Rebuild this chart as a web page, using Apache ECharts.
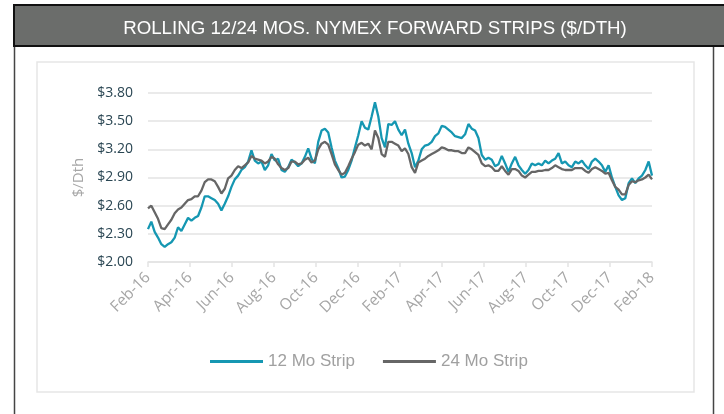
<!DOCTYPE html>
<html>
<head>
<meta charset="utf-8">
<script src="https://cdn.jsdelivr.net/npm/echarts@6/dist/echarts.min.js"></script>
<style>
  html, body { margin: 0; padding: 0; background: #fff; }
  #chart { width: 724px; height: 414px; }
</style>
</head>
<body>
<div id="chart"></div>
<script>
// tick labels every 2 months, Feb-16 .. Feb-18
var tickLabels = ['Feb-16', 'Apr-16', 'Jun-16', 'Aug-16', 'Oct-16', 'Dec-16', 'Feb-17',
                  'Apr-17', 'Jun-17', 'Aug-17', 'Oct-17', 'Dec-17', 'Feb-18'];

// rolling 12 month strip, $/Dth (~5 day steps)
var strip12 = [
  2.35, 2.43, 2.32, 2.26, 2.19, 2.16, 2.19, 2.21, 2.26, 2.37, 2.33, 2.40, 2.47, 2.44, 2.47, 2.49,
  2.58, 2.70, 2.70, 2.68, 2.66, 2.62, 2.55, 2.62, 2.70, 2.80, 2.88, 2.92, 2.98, 3.01, 3.07, 3.19,
  3.08, 3.05, 3.07, 2.98, 3.03, 3.15, 3.08, 3.10, 2.98, 2.96, 3.01, 3.09, 3.06, 3.02, 3.05, 3.12,
  3.21, 3.10, 3.05, 3.28, 3.40, 3.42, 3.38, 3.22, 3.08, 3.00, 2.90, 2.91, 2.98, 3.08, 3.22, 3.35,
  3.50, 3.43, 3.41, 3.55, 3.70, 3.55, 3.32, 3.22, 3.47, 3.46, 3.50, 3.41, 3.35, 3.41, 3.26, 3.16,
  3.01, 3.08, 3.20, 3.24, 3.25, 3.28, 3.34, 3.37, 3.45, 3.44, 3.41, 3.38, 3.34, 3.33, 3.32, 3.36,
  3.47, 3.42, 3.40, 3.32, 3.14, 3.09, 3.11, 3.09, 3.02, 3.04, 3.13, 3.05, 2.96, 3.05, 3.12, 3.03,
  2.98, 2.94, 2.98, 3.05, 3.03, 3.05, 3.03, 3.08, 3.05, 3.08, 3.10, 3.16, 3.05, 3.07, 3.03, 3.01,
  3.07, 3.05, 3.08, 3.03, 2.99, 3.07, 3.10, 3.07, 3.03, 2.96, 3.03, 2.90, 2.80, 2.71, 2.66, 2.68,
  2.84, 2.89, 2.84, 2.89, 2.92, 2.98, 3.07, 2.92
];

// rolling 24 month strip, $/Dth
var strip24 = [
  2.57, 2.60, 2.53, 2.46, 2.36, 2.35, 2.40, 2.45, 2.52, 2.56, 2.58, 2.62, 2.66, 2.67, 2.70, 2.70,
  2.76, 2.85, 2.88, 2.88, 2.86, 2.80, 2.73, 2.78, 2.89, 2.92, 2.98, 3.02, 3.00, 3.03, 3.06, 3.13,
  3.10, 3.09, 3.08, 3.05, 3.07, 3.12, 3.10, 3.04, 3.00, 2.98, 3.00, 3.07, 3.07, 3.04, 3.05, 3.09,
  3.11, 3.06, 3.08, 3.20, 3.26, 3.28, 3.25, 3.15, 3.04, 2.98, 2.93, 2.95, 3.02, 3.10, 3.17, 3.25,
  3.27, 3.24, 3.26, 3.20, 3.40, 3.32, 3.15, 3.12, 3.28, 3.28, 3.26, 3.24, 3.18, 3.21, 3.15, 3.01,
  2.95, 3.06, 3.08, 3.10, 3.13, 3.15, 3.17, 3.19, 3.22, 3.21, 3.19, 3.19, 3.18, 3.18, 3.16, 3.16,
  3.22, 3.20, 3.17, 3.14, 3.05, 3.02, 3.03, 3.01, 2.97, 2.97, 3.02, 2.97, 2.93, 2.99, 2.99, 2.97,
  2.92, 2.90, 2.93, 2.96, 2.96, 2.97, 2.97, 2.98, 2.98, 3.00, 3.03, 3.01, 2.99, 2.98, 2.98, 2.98,
  3.00, 3.00, 3.00, 2.97, 2.95, 2.99, 3.01, 2.99, 2.97, 2.94, 2.95, 2.87, 2.80, 2.77, 2.72, 2.72,
  2.82, 2.86, 2.85, 2.87, 2.88, 2.90, 2.93, 2.88
];

// samples are evenly spaced over the 24 months
function toPairs(arr) {
  return arr.map(function (v, i) { return [i * 24 / (arr.length - 1), v]; });
}

var myChart = echarts.init(document.getElementById('chart'));
var option = {
  backgroundColor: '#fff',
  animation: false,
  title: {
    text: 'ROLLING 12/24 MOS. NYMEX FORWARD STRIPS ($/DTH)',
    left: 370,
    textAlign: 'center',
    top: 14,
    textStyle: { color: '#fff', fontSize: 18.7, fontWeight: 'normal', fontFamily: 'Liberation Sans' }
  },
  graphic: [
    // outer frame lines
    { type: 'line', z: -1, shape: { x1: 14.5, y1: 5, x2: 14.5, y2: 414 }, style: { stroke: '#444', lineWidth: 1.5 } },
    { type: 'line', z: -1, shape: { x1: 713.5, y1: 46, x2: 713.5, y2: 414 }, style: { stroke: '#444', lineWidth: 1.5 } },
    // title bar
    { type: 'rect', z: -1, shape: { x: 14, y: 5, width: 720, height: 41 }, style: { fill: '#6b6d6b', stroke: '#111', lineWidth: 2 } },
    // inner chart box
    { type: 'rect', z: -1, shape: { x: 37, y: 62, width: 657, height: 330 }, style: { fill: '#fff', stroke: '#e6e6e6', lineWidth: 1.5 } }
  ],
  legend: {
    top: 348,
    left: 205,
    itemWidth: 53,
    itemHeight: 3,
    itemGap: 28,
    icon: 'rect',
    textStyle: { color: '#a0a0a0', fontSize: 17, fontFamily: 'Liberation Sans' },
    data: ['12 Mo Strip', '24 Mo Strip']
  },
  grid: { left: 148, right: 72, top: 93, bottom: 152 },
  xAxis: {
    type: 'value',
    min: 0,
    max: 24,
    interval: 2,
    axisLine: { show: true, lineStyle: { color: '#e3e3e3', width: 1.5 } },
    axisTick: { show: true, length: 5, lineStyle: { color: '#e3e3e3', width: 1.5 } },
    splitLine: { show: false },
    axisLabel: {
      rotate: 45,
      margin: 13,
      color: '#a6a6a6',
      fontSize: 15.5,
      fontFamily: 'Open Sans',
      formatter: function (v) { return tickLabels[Math.round(v / 2)]; }
    }
  },
  yAxis: {
    type: 'value',
    min: 2.0,
    max: 3.8,
    interval: 0.3,
    name: '$/Dth',
    nameLocation: 'middle',
    nameGap: 62,
    nameTextStyle: { color: '#a6a6a6', fontSize: 15, fontFamily: 'Open Sans' },
    axisLine: { show: false },
    axisTick: { show: false },
    splitLine: { lineStyle: { color: '#e3e3e3', width: 1.5 } },
    axisLabel: {
      margin: 15,
      color: '#2a4653',
      fontSize: 14,
      fontFamily: 'Open Sans',
      formatter: function (v) { return '$' + v.toFixed(2); }
    }
  },
  series: [
    {
      name: '12 Mo Strip',
      type: 'line',
      showSymbol: false,
      symbol: 'none',
      data: toPairs(strip12),
      lineStyle: { width: 2.3, color: '#1597b2' },
      itemStyle: { color: '#1597b2' },
      z: 2
    },
    {
      name: '24 Mo Strip',
      type: 'line',
      showSymbol: false,
      symbol: 'none',
      data: toPairs(strip24),
      lineStyle: { width: 2.3, color: '#666666' },
      itemStyle: { color: '#666666' },
      z: 3
    }
  ]
};
myChart.setOption(option);
</script>
</body>
</html>
